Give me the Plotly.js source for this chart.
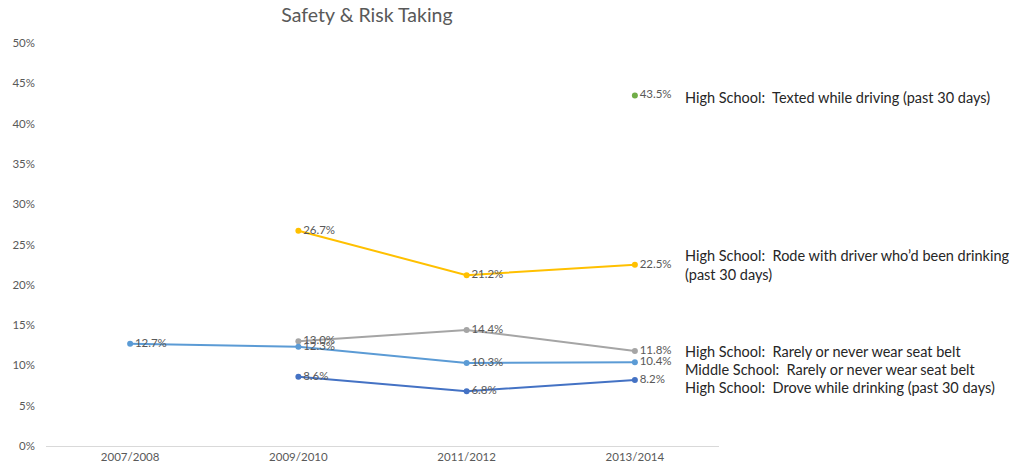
<!DOCTYPE html>
<html>
<head>
<meta charset="utf-8">
<script src="https://cdn.plot.ly/plotly-3.0.1.min.js"></script>
<style>html,body{margin:0;padding:0;background:#fff;}#chart{width:1013px;height:473px;}</style>
</head>
<body>
<div id="chart"></div>
<script>
const years = ["2007/2008", "2009/2010", "2011/2012", "2013/2014"];
const textedDriving = [null, null, null, 43.5];
const rodeWithDrinker = [null, 26.7, 21.2, 22.5];
const hsSeatBelt = [null, 13.0, 14.4, 11.8];
const msSeatBelt = [12.7, 12.3, 10.3, 10.4];
const droveDrinking = [null, 8.6, 6.8, 8.2];
const seriesNames = [
  "High School:  Texted while driving (past 30 days)",
  "High School:  Rode with driver who\u2019d been drinking<br>(past 30 days)",
  "High School:  Rarely or never wear seat belt",
  "Middle School:  Rarely or never wear seat belt",
  "High School:  Drove while drinking (past 30 days)"
];
const colors = ["#70AD47", "#FFC000", "#A5A5A5", "#5B9BD5", "#4472C4"];
const allSeries = [textedDriving, rodeWithDrinker, hsSeatBelt, msSeatBelt, droveDrinking];
const labelY = [43.3, 22.4, 11.7, 9.5, 7.3];

const FONT = "Lato, 'Open Sans', sans-serif";
const traces = allSeries.map((vals, i) => ({
  x: years,
  y: vals,
  type: "scatter",
  mode: "lines+markers+text",
  line: {color: colors[i], width: 2},
  marker: {color: colors[i], size: 6},
  text: vals.map(v => v == null ? "" : v.toFixed(1) + "%"),
  textposition: "middle right",
  textfont: {family: FONT, size: 11.5, color: "#595959"},
  connectgaps: false,
  hoverinfo: "skip",
  showlegend: false
}));

const annotations = seriesNames.map((n, i) => ({
  xref: "paper", yref: "y",
  x: (683 - 46) / 673, y: labelY[i],
  xanchor: "left", yanchor: "middle",
  text: n, showarrow: false, align: "left",
  font: {family: FONT, size: 14.5, color: "#262626"}
}));

const layout = {
  width: 1013, height: 473,
  margin: {l: 46, r: 294, t: 43, b: 27},
  paper_bgcolor: "#fff", plot_bgcolor: "#fff",
  title: {text: "Safety &amp; Risk Taking", x: 367/1013, xref: "container", xanchor: "center", y: 0.968, yanchor: "middle",
    font: {family: FONT, size: 19.5, color: "#595959"}},
  xaxis: {type: "category", range: [-0.5, 3.5], showline: true, linecolor: "#d9d9d9", linewidth: 1,
    showgrid: false, zeroline: false, ticks: "",
    tickfont: {family: FONT, size: 11.5, color: "#595959"}},
  yaxis: {range: [0, 50], dtick: 5, ticksuffix: "%", showgrid: false, zeroline: false, showline: false,
    ticks: "", ticklabelstandoff: 10, tickfont: {family: FONT, size: 11.5, color: "#595959"}},
  annotations: annotations
};

Plotly.newPlot("chart", traces, layout, {displayModeBar: false, staticPlot: true});
</script>
</body>
</html>
